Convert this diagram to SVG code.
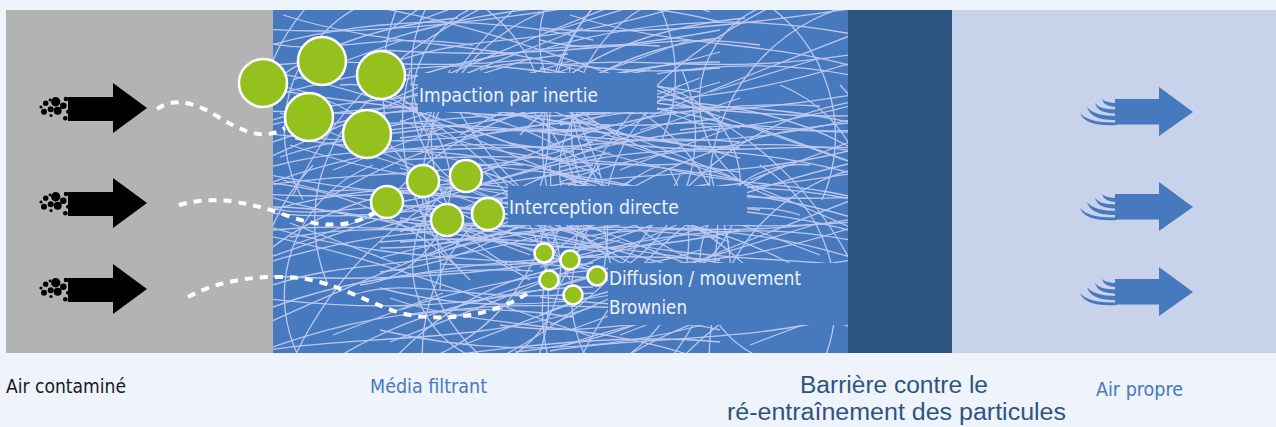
<svg xmlns="http://www.w3.org/2000/svg" xmlns:xlink="http://www.w3.org/1999/xlink" width="1276" height="427" viewBox="0 0 1276 427">
<style>
.fib path{fill:none;stroke:#BCC8F0;stroke-width:1.3}
.dash{fill:none;stroke:#FFFFFF;stroke-width:4;stroke-dasharray:8 7}
.big{fill:#95C11F;stroke:#FFFFFF;stroke-width:2.5}
.lbl{font-family:"Liberation Sans Narrow","DejaVu Sans Condensed","Liberation Sans",sans-serif;font-size:19px;fill:#EEF2FB}
.cap{font-family:"Liberation Sans Narrow","DejaVu Sans Condensed","Liberation Sans",sans-serif;font-size:20px}
.bar{font-family:"Liberation Sans",Arial,sans-serif;font-size:23px;fill:#2E5482}
.box{fill:#4679BE}
</style>
<defs>
<clipPath id="clipBlue"><rect x="273" y="10" width="575" height="343"/></clipPath>
<g id="tile" class="fib">
<path d="M-20,40 Q150,-10 320,30"/>
<path d="M-20,92 C80,60 200,40 320,72"/>
<path d="M-10,150 C100,100 200,60 310,18"/>
<path d="M0,172 Q150,118 300,142"/>
<path d="M-20,122 C60,132 180,142 320,102"/>
<path d="M20,185 C60,100 120,40 225,-10"/>
<path d="M-20,58 C100,80 200,122 320,162"/>
<path d="M100,-10 A140,140 0 0 0 30,190"/>
<path d="M200,-10 A160,160 0 0 1 262,190"/>
<path d="M-20,18 Q100,30 320,-6"/>
<path d="M0,110 C90,80 150,100 300,50"/>
<path d="M-10,176 C80,160 200,170 320,132"/>
<path d="M60,185 C150,130 250,112 320,112"/>
<path d="M-20,140 C50,110 150,90 260,96"/>
<path d="M10,5 C120,40 220,30 310,62"/>
<path d="M150,195 A190,190 0 0 1 320,-10"/>
<path d="M-10,80 Q60,20 185,8"/>
<path d="M120,185 Q200,100 320,88"/>
<path d="M-20,100 Q150,112 320,80"/>
<path d="M0,55 C100,45 150,66 295,44"/>
<path d="M40,-10 A210,210 0 0 0 -10,190"/>
<path d="M60,160 L170,118"/>
<path d="M150,82 L260,48"/>
<path d="M20,70 L130,30"/>
<path d="M190,170 L300,128"/>
<path d="M-20,30 C60,50 90,20 200,35"/>
<path d="M80,120 C140,100 200,130 320,118"/>
<path d="M250,-10 A100,100 0 0 0 230,190"/>
</g>
<g id="blk">
<path d="M68,-11 H113 V-25 L147,0 L113,25 V13 H68 Z" fill="#000"/>
<g fill="#000">
<circle cx="55.7" cy="-6.3" r="4.7"/><circle cx="63.3" cy="-2.3" r="3.3"/><circle cx="57.7" cy="2.7" r="4"/>
<circle cx="50.7" cy="1.3" r="3"/><circle cx="45.7" cy="-4.7" r="2.7"/><circle cx="41" cy="-1" r="1.6"/>
<circle cx="44" cy="3.7" r="3"/><circle cx="66" cy="-9" r="2.3"/><circle cx="65.3" cy="10.3" r="2.3"/>
<circle cx="51" cy="7.5" r="1.6"/><circle cx="68" cy="3.7" r="2"/><circle cx="50" cy="-8" r="1.4"/>
</g>
</g>
<g id="blu" fill="#4679BE">
<path d="M1115,-13 H1159 V-25 L1193,0 L1159,24 V12.5 H1115 Z"/>
<path d="M1102,-13 Q1106,-9 1117,-9 L1117,-5 Q1104,-5 1102,-13 Z"/>
<path d="M1095,-9 Q1100,-2 1117,-2.5 L1117,1.5 Q1098,2 1095,-9 Z"/>
<path d="M1087,-5 Q1094,4 1117,4 L1117,8 Q1091,9 1087,-5 Z"/>
<path d="M1080,1 Q1088,11 1117,10.5 L1117,13 Q1085,15 1080,1 Z"/>
</g>
</defs>

<rect width="1276" height="427" fill="#EFF3FB"/>

<g id="panels">
<rect x="6" y="10" width="267" height="343" fill="#B3B3B3"/>
<rect x="273" y="10" width="575" height="343" fill="#4679BE"/>
<rect x="848" y="10" width="104" height="343" fill="#2E5482"/>
<rect x="952" y="10" width="324" height="343" fill="#C8D3EB"/>
</g>

<g id="fibres" clip-path="url(#clipBlue)">
<use xlink:href="#tile" transform="translate(273,10)"/>
<use xlink:href="#tile" transform="translate(560,10)"/>
<use xlink:href="#tile" transform="translate(273,175)"/>
<use xlink:href="#tile" transform="translate(560,175)"/>
<use xlink:href="#tile" transform="translate(880,95) scale(-1,1)"/>
<use xlink:href="#tile" transform="translate(590,95) scale(-1,1)"/>
<use xlink:href="#tile" transform="translate(420,260) scale(1,-1)"/>
<use xlink:href="#tile" transform="translate(700,360) scale(-1,-1)"/>
<use xlink:href="#tile" transform="translate(400,-50)"/>
</g>

<g id="label-boxes">
<rect class="box" x="418" y="73" width="239" height="39"/>
<rect class="box" x="508" y="186" width="239" height="39"/>
<rect class="box" x="608" y="263" width="240" height="62"/>
</g>

<g id="connectors">
<path class="dash" d="M157,109 C172,98 192,101 215,115 C240,130 262,142 285,128"/>
<path class="dash" d="M179,205 C210,196 240,200 280,213 C310,225 345,232 375,212"/>
<path class="dash" d="M188,297 C215,282 250,276 285,277 C330,278 360,300 400,313 C440,322 490,318 528,293"/>
</g>

<g id="inlet-arrows">
<use xlink:href="#blk" transform="translate(0,108)"/>
<use xlink:href="#blk" transform="translate(0,203)"/>
<use xlink:href="#blk" transform="translate(0,289)"/>
</g>

<g id="outlet-arrows">
<use xlink:href="#blu" transform="translate(0,112)"/>
<use xlink:href="#blu" transform="translate(0,207)"/>
<use xlink:href="#blu" transform="translate(0,292)"/>
</g>

<g id="impaction">
<circle class="big" cx="263" cy="83" r="24"/>
<circle class="big" cx="322" cy="61" r="24"/>
<circle class="big" cx="381" cy="75" r="24"/>
<circle class="big" cx="309" cy="117" r="24"/>
<circle class="big" cx="367" cy="134" r="24"/>
<text class="lbl" x="419" y="102" textLength="179" lengthAdjust="spacingAndGlyphs">Impaction par inertie</text>
</g>

<g id="interception">
<circle class="big" cx="387" cy="202" r="16"/>
<circle class="big" cx="423" cy="181" r="16"/>
<circle class="big" cx="466" cy="176" r="16"/>
<circle class="big" cx="447" cy="220" r="16"/>
<circle class="big" cx="488" cy="214" r="16"/>
<text class="lbl" x="509" y="214" textLength="170" lengthAdjust="spacingAndGlyphs">Interception directe</text>
</g>

<g id="diffusion">
<circle class="big" cx="544" cy="253" r="9.5" stroke-width="2"/>
<circle class="big" cx="570" cy="260" r="9.5" stroke-width="2"/>
<circle class="big" cx="549" cy="280" r="9.5" stroke-width="2"/>
<circle class="big" cx="597" cy="276" r="9.5" stroke-width="2"/>
<circle class="big" cx="573" cy="295" r="9.5" stroke-width="2"/>
<text class="lbl" x="609" y="285" textLength="192" lengthAdjust="spacingAndGlyphs">Diffusion / mouvement</text>
<text class="lbl" x="609" y="314" textLength="78" lengthAdjust="spacingAndGlyphs">Brownien</text>
</g>

<g id="captions">
<text class="cap" x="6" y="393" fill="#1A1A1A" textLength="120" lengthAdjust="spacingAndGlyphs">Air contaminé</text>
<text class="cap" x="370" y="393" fill="#4679BE" textLength="117" lengthAdjust="spacingAndGlyphs">Média filtrant</text>
<text class="bar" x="800" y="393" textLength="188" lengthAdjust="spacingAndGlyphs">Barrière contre le</text>
<text class="bar" x="727" y="420" textLength="339" lengthAdjust="spacingAndGlyphs">ré-entraînement des particules</text>
<text class="cap" x="1096" y="396" fill="#4679BE" textLength="87" lengthAdjust="spacingAndGlyphs">Air propre</text>
</g>
</svg>
